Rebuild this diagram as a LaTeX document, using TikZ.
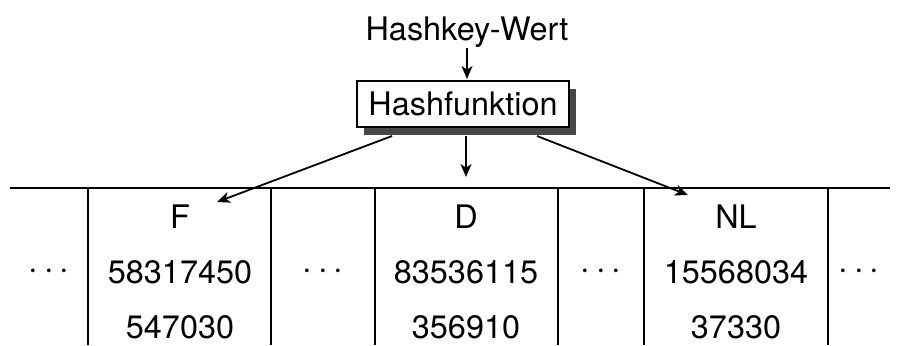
\documentclass[tikz,border=0pt]{standalone}
\usepackage{fontspec}
\setmainfont{TeX Gyre Heros}
\usetikzlibrary{arrows.meta,shadows}
\begin{document}
\begin{tikzpicture}[x=0.5pt,y=-0.5pt,
  txt/.style={inner sep=0pt,font=\fontsize{16.2}{19}\selectfont},
  grid/.style={line width=1.1pt},
  conn/.style={line width=0.9pt,-{Stealth[length=6.5pt,width=5.5pt,inset=1.8pt]}},
  hbox/.style={draw,line width=1.1pt,fill=white,minimum width=106pt,minimum height=23pt,inner sep=0pt,
    font=\fontsize{16.2}{19}\selectfont,
    drop shadow={shadow xshift=3.5pt,shadow yshift=-4pt,fill=black!72,opacity=1}}]
\useasboundingbox (0,0) rectangle (900,345);
% top label and hash function box
\node[txt] (key) at (467,32) {Hashkey-Wert};
\node[hbox] (hf) at (463,104) {Hashfunktion};
% table lines
\coordinate (tl) at (10,188);
\coordinate (tr) at (890,188);
\draw[grid] (tl) -- (tr);
\foreach \x/\n in {88/a,271/b,375/c,558/d,644/e,828/f}{
  \coordinate (v\n t) at (\x,188);
  \coordinate (v\n b) at (\x,345);
  \draw[grid] (v\n t) -- (v\n b);
}
% cells
\node[txt] (f1) at (180,217) {F};
\node[txt] (f2) at (180,272) {58317450};
\node[txt] (f3) at (180,327) {547030};
\node[txt] (d1) at (466,217) {D};
\node[txt] (d2) at (466,272) {83536115};
\node[txt] (d3) at (466,327) {356910};
\node[txt] (n1) at (736,217) {NL};
\node[txt] (n2) at (736,272) {15568034};
\node[txt] (n3) at (736,327) {37330};
\node[txt] (dot1) at (49,272) {$\cdots$};
\node[txt] (dot2) at (323,272) {$\cdots$};
\node[txt] (dot3) at (601,272) {$\cdots$};
\node[txt] (dot4) at (859,272) {$\cdots$};
% connectors
\coordinate (kb) at (467,48);
\coordinate (ht) at (467,79);
\draw[conn] (kb) -- (ht);
\coordinate (s1) at (392,136);
\coordinate (e1) at (217,202);
\coordinate (s2) at (466,136);
\coordinate (e2) at (466,177);
\coordinate (s3) at (537,136);
\coordinate (e3) at (688,195);
\draw[conn] (s1) -- (e1);
\draw[conn] (s2) -- (e2);
\draw[conn] (s3) -- (e3);
\end{tikzpicture}
\end{document}
